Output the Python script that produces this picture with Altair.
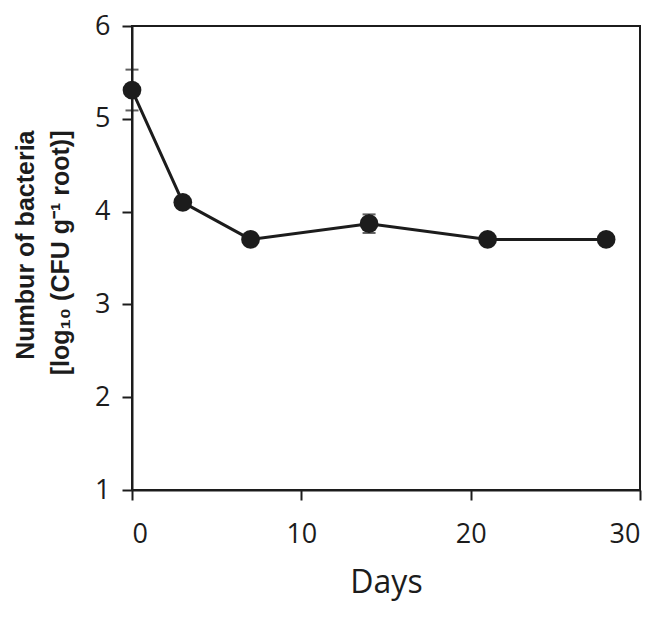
import altair as alt
import pandas as pd

days = [0, 3, 7, 14, 21, 28]
means = [5.31, 4.10, 3.70, 3.87, 3.70, 3.70]
errs = [0.22, 0.0, 0.0, 0.10, 0.0, 0.0]

x_ticks = [0, 10, 20, 30]
y_ticks = [1, 2, 3, 4, 5, 6]

df = pd.DataFrame({"day": days, "mean": means, "err": errs})
df["lo"] = df["mean"] - df["err"]
df["hi"] = df["mean"] + df["err"]
df_err = df[df["err"] > 0]

dark = "#1c1c1c"

xscale = alt.Scale(domain=[0, 30], nice=False, zero=False)
yscale = alt.Scale(domain=[1, 6], nice=False, zero=False)

common = dict(grid=False, tickSize=10, format="d",
              domainColor=dark, domainWidth=2, tickColor=dark, tickWidth=2,
              labelFont="Open Sans", labelFontSize=27, labelColor=dark)

xaxis = alt.Axis(values=x_ticks, title="Days", labelPadding=21, titlePadding=20,
                 titleFont="Open Sans", titleFontSize=32, titleFontWeight="normal",
                 titleColor=dark, **common)
yaxis = alt.Axis(values=y_ticks, labelPadding=12,
                 title=["Numbur of bacteria", "[log\u2081\u2080 (CFU g\u207b\u00b9 root)]"],
                 titleFont="Liberation Sans", titleFontWeight="bold", titleFontSize=25,
                 titleColor=dark,
                 titleAngle=270, titleAlign="right", titleBaseline="alphabetic",
                 titleX=-99, titleY=104, titleLineHeight=35, **common)

base = alt.Chart(df)

line = base.mark_line(color=dark, strokeWidth=3).encode(
    x=alt.X("day:Q", scale=xscale, axis=xaxis),
    y=alt.Y("mean:Q", scale=yscale, axis=yaxis),
)

rule = alt.Chart(df_err).mark_rule(color=dark, strokeWidth=2).encode(
    x="day:Q", y="lo:Q", y2="hi:Q"
)
cap_lo = alt.Chart(df_err).mark_tick(color=dark, orient="horizontal", size=13, thickness=2).encode(
    x="day:Q", y="lo:Q"
)
cap_hi = alt.Chart(df_err).mark_tick(color=dark, orient="horizontal", size=13, thickness=2).encode(
    x="day:Q", y="hi:Q"
)

points = base.mark_point(filled=True, shape="circle", size=350, color=dark, opacity=1).encode(
    x="day:Q", y="mean:Q"
)

chart = alt.layer(line, rule, cap_lo, cap_hi, points).properties(
    width=508, height=464,
    background="white",
    autosize=alt.AutoSizeParams(type="none"),
    padding={"left": 124, "top": 18, "right": 24, "bottom": 125},
).configure_view(
    stroke=dark, strokeWidth=2
)

chart.save("out.html", embed_options={"renderer": "svg", "actions": False})
